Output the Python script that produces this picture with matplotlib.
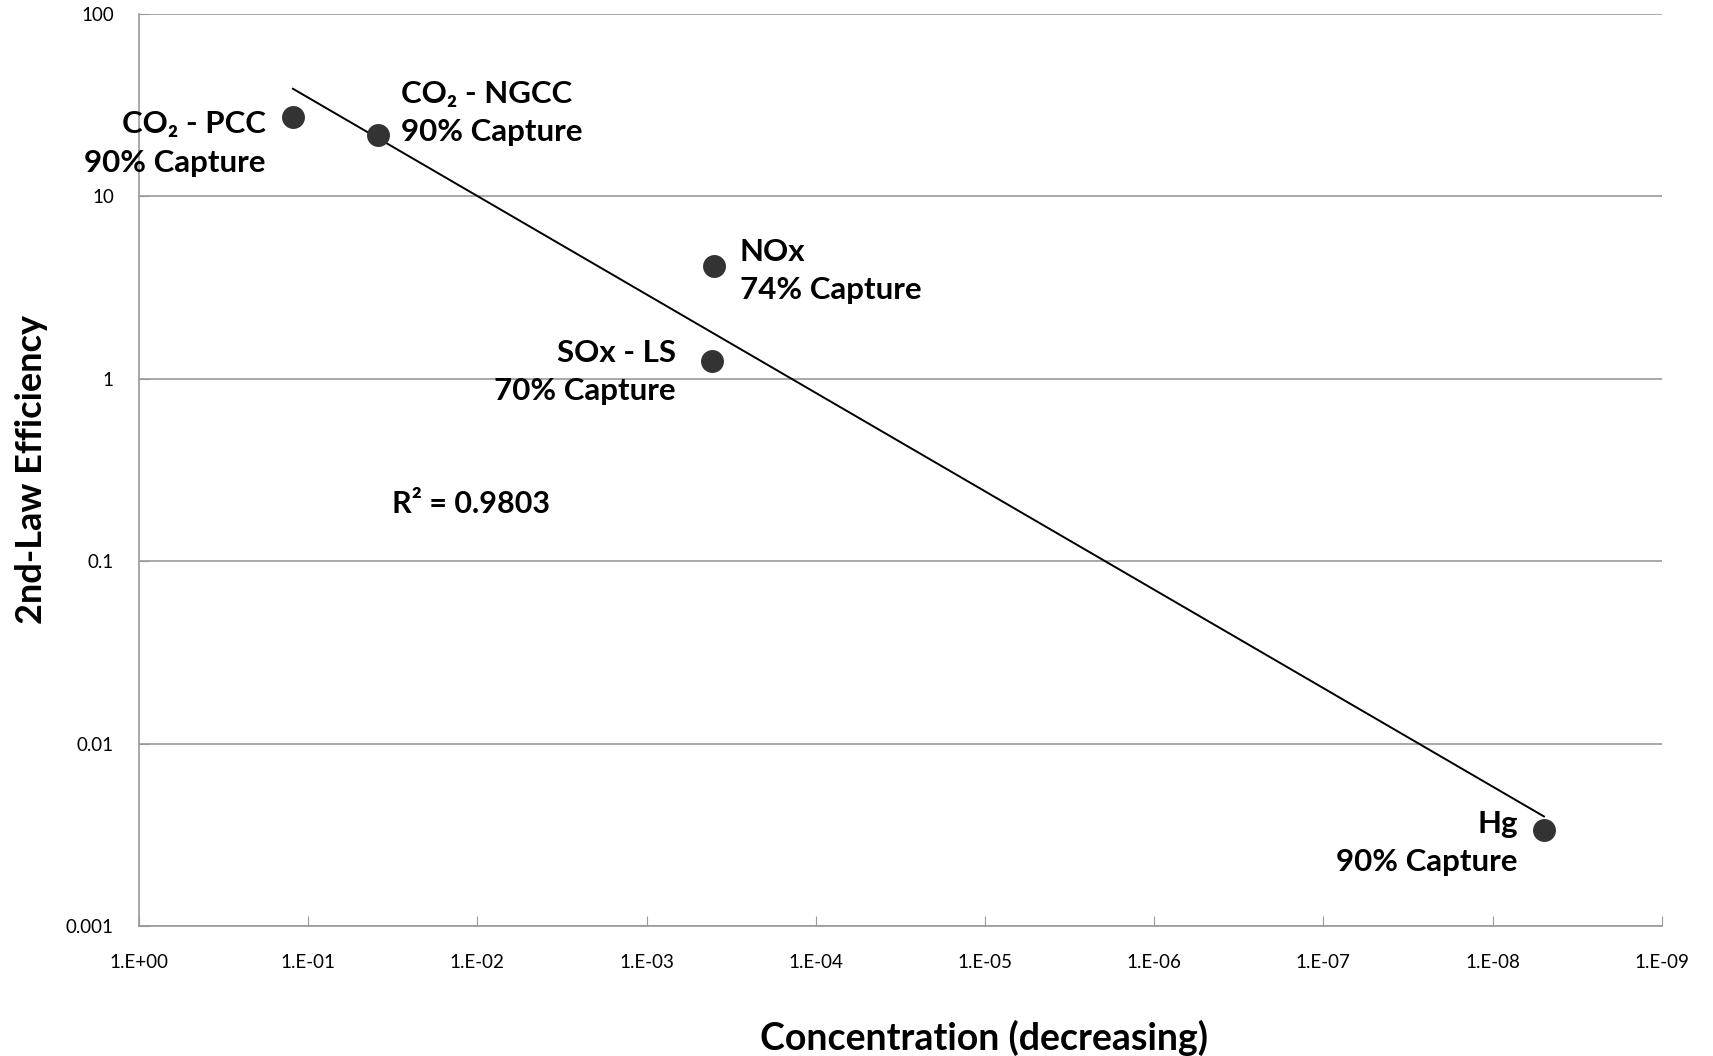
import numpy as np
import matplotlib
matplotlib.use("Agg")
import matplotlib.pyplot as plt
from matplotlib.ticker import FixedLocator, NullLocator

plt.rcParams['font.family'] = ['Lato', 'DejaVu Sans']

# data
names = ['CO₂ - PCC', 'CO₂ - NGCC', 'NOx', 'SOx - LS', 'Hg']
capture = ['90% Capture', '90% Capture', '74% Capture', '70% Capture', '90% Capture']
conc = [0.123, 0.0386, 4.0e-4, 4.1e-4, 4.97e-9]
eff = [27.0, 21.6, 4.14, 1.25, 0.00337]
label_side = ['left', 'right', 'right', 'left', 'left']
label_dx = [-27, 23, 26, -36, -26]   # pixel shift of label block vs point
label_dy = [-26, 22, -5, -11, -13]

x_ticks = [10.0 ** -i for i in range(10)]
x_ticklabels = ['1.E+00', '1.E-01', '1.E-02', '1.E-03', '1.E-04',
                '1.E-05', '1.E-06', '1.E-07', '1.E-08', '1.E-09']
y_ticks = [100, 10, 1, 0.1, 0.01, 0.001]
y_ticklabels = ['100', '10', '1', '0.1', '0.01', '0.001']

fig = plt.figure(figsize=(17.13, 10.56), dpi=100)
ax = fig.add_axes([0.0811, 0.123, 0.889, 0.864])
ax.set_xscale('log')
ax.set_yscale('log')
ax.set_xlim(1, 1e-9)
ax.set_ylim(0.001, 100)

# power trendline (log-log least squares)
lx = np.log10(conc)
ly = np.log10(eff)
b, a = np.polyfit(lx, ly, 1)
xs = np.array([max(conc), min(conc)])
ax.plot(xs, 10 ** (a + b * np.log10(xs)), color='black', lw=1.4, zorder=3)

ax.plot(conc, eff, 'o', color='#333333', ms=15.5, zorder=4)

for n, c, x, y, side, dx, dy in zip(names, capture, conc, eff, label_side, label_dx, label_dy):
    ha = 'right' if side == 'left' else 'left'
    ax.annotate(n + '\n' + c, (x, y), xytext=(dx, dy), textcoords='offset pixels',
                ha=ha, va='center', ma=ha, fontsize=22.5, fontweight='bold',
                linespacing=1.45, zorder=5)

ax.text(0.166, 0.463, 'R² = 0.9803', transform=ax.transAxes,
        fontsize=22, fontweight='bold', ha='left', va='center')

ax.xaxis.set_major_locator(FixedLocator(x_ticks))
ax.set_xticklabels(x_ticklabels)
ax.xaxis.set_minor_locator(NullLocator())
ax.yaxis.set_major_locator(FixedLocator(y_ticks))
ax.set_yticklabels(y_ticklabels)
ax.yaxis.set_minor_locator(NullLocator())

ax.grid(axis='y', color='#999999', lw=1.2)
ax.set_axisbelow(True)
for s in ['top', 'right']:
    ax.spines[s].set_visible(False)
for s in ['left', 'bottom']:
    ax.spines[s].set_color('#999999')
    ax.spines[s].set_linewidth(1.2)
ax.tick_params(axis='x', direction='in', length=7, color='#999999',
               labelsize=13.5, pad=20)
ax.tick_params(axis='y', direction='in', length=7, color='#999999',
               labelsize=13.5, pad=18)

ax.set_xlabel('Concentration (decreasing)', fontsize=27, fontweight='bold', labelpad=35)
ax.xaxis.label.set_x(0.555)
ax.set_ylabel('2nd-Law Efficiency', fontsize=26, fontweight='bold', labelpad=13)

fig.savefig('out.png', dpi=100, facecolor='white')
